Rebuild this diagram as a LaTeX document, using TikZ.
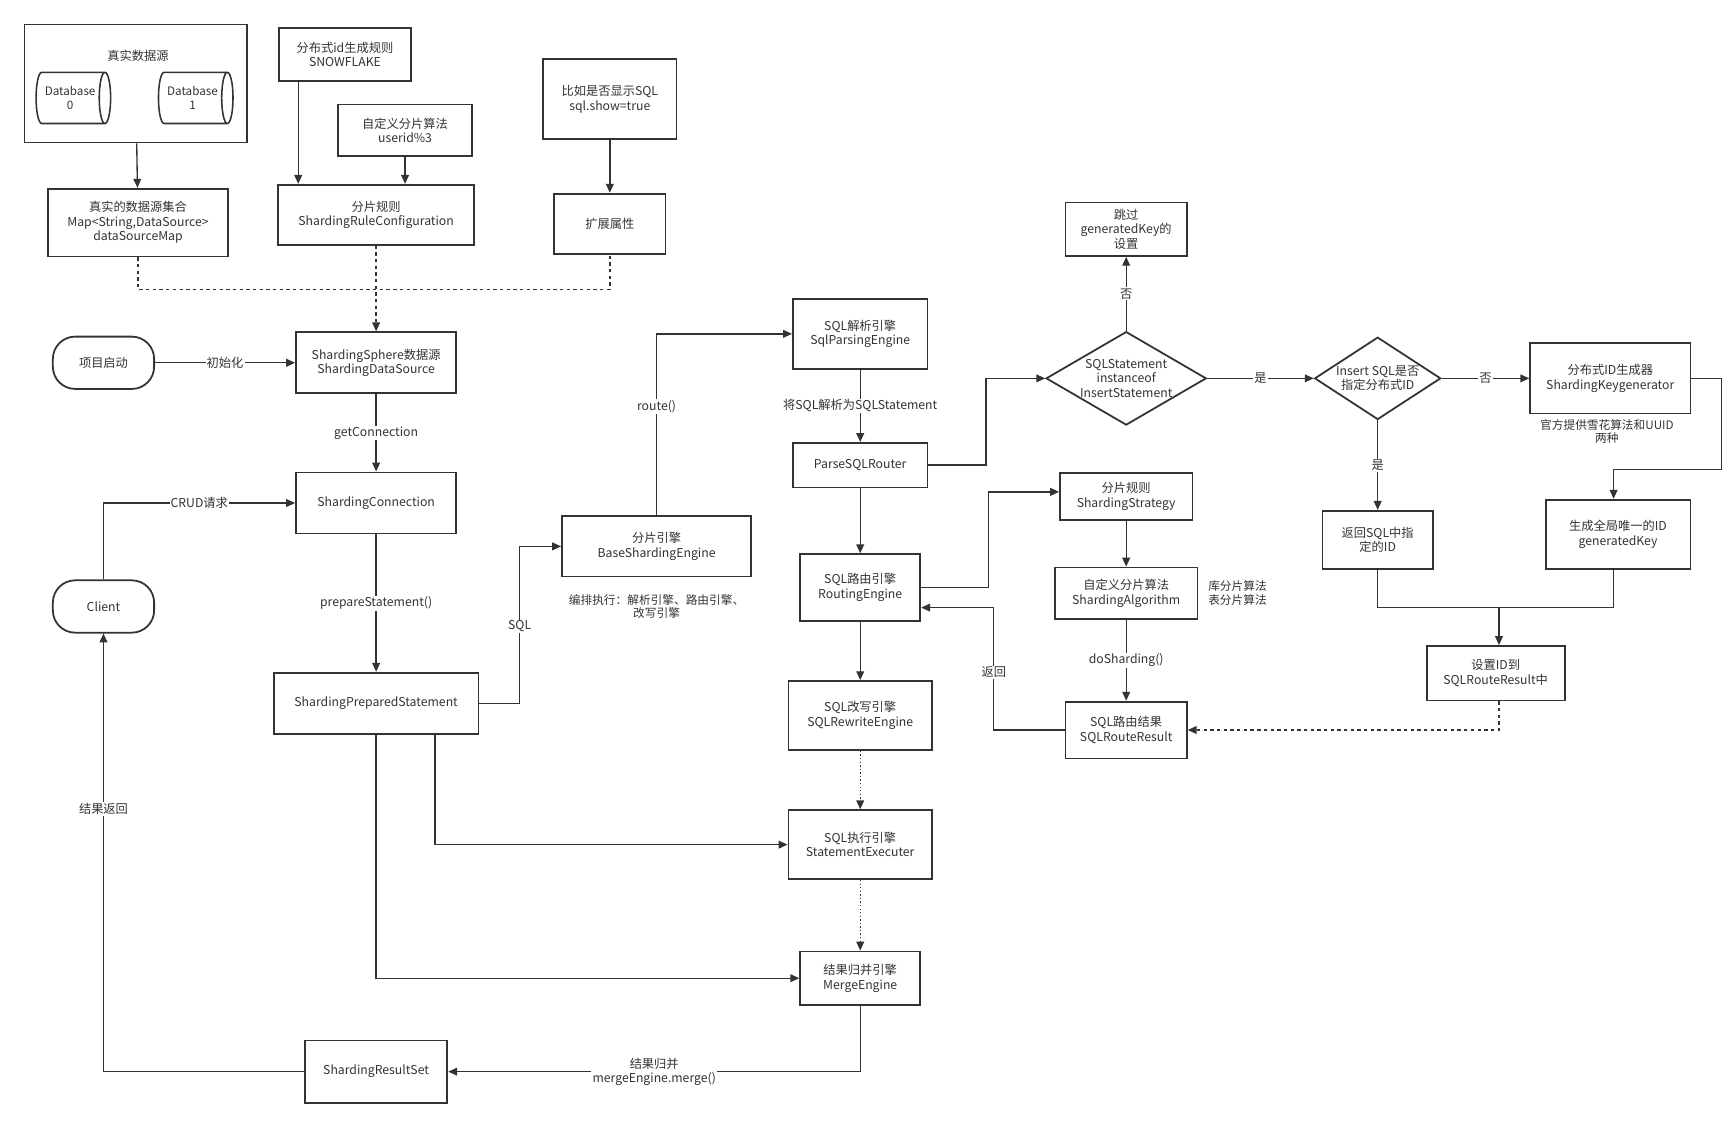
\documentclass[tikz,border=0pt]{standalone}
\usepackage{fontspec}
\setmainfont{Noto Sans CJK SC}
\usetikzlibrary{arrows.meta,shapes.geometric}
\begin{document}
\begin{tikzpicture}[x=1pt,y=-1pt,line width=1.2pt,color={black!80},
  >={Triangle[length=8pt,width=7pt]},
  font=\fontsize{11}{13}\selectfont,
  box/.style={draw,line width=1.6pt,align=center,inner sep=0pt},
  term/.style={draw,line width=1.6pt,rounded corners=20pt,minimum width=91pt,minimum height=47pt},
  dia/.style={draw,diamond,line width=1.6pt,align=center,inner sep=0pt,aspect=1.7},
  db/.style={draw,cylinder,shape aspect=0.5,line width=1.4pt,minimum width=46pt,minimum height=67pt,align=center,inner sep=0pt,font=\fontsize{10.5}{12}\selectfont},
  lbl/.style={fill=white,inner sep=1pt},
  note/.style={align=center,font=\fontsize{10.5}{12}\selectfont}]
  \useasboundingbox (0,0) rectangle (1560,1008);
  % top configuration
  \node[box,minimum width=200pt,minimum height=106pt] (src) at (122,75) {};
  \node at (124,50) {真实数据源};
  \node[db] (db0) at (63,88) {Database\\0};
  \node[db] (db1) at (173,88) {Database\\1};
  \node[box,minimum width=162pt,minimum height=61pt] (dsmap) at (124,200) {真实的数据源集合\\Map<String,DataSource>\\dataSourceMap};
  \node[box,minimum width=119pt,minimum height=47pt] (snow) at (310,49) {分布式id生成规则\\SNOWFLAKE};
  \node[box,minimum width=120pt,minimum height=46pt] (algo) at (364,117) {自定义分片算法\\userid\%3};
  \node[box,minimum width=176pt,minimum height=54pt] (rule) at (338,193) {分片规则\\ShardingRuleConfiguration};
  \node[box,minimum width=120pt,minimum height=72pt] (show) at (548,89) {比如是否显示SQL\\sql.show=true};
  \node[box,minimum width=100pt,minimum height=54pt] (ext) at (548,201) {扩展属性};
  % main flow
  \node[term] (start) at (93,326) {项目启动};
  \node[box,minimum width=144pt,minimum height=55pt] (ds) at (338,326) {ShardingSphere数据源\\ShardingDataSource};
  \node[box,minimum width=144pt,minimum height=55pt] (conn) at (338,452) {ShardingConnection};
  \node[term] (client) at (93,545) {Client};
  \node[box,minimum width=184pt,minimum height=55pt] (pstmt) at (338,632) {ShardingPreparedStatement};
  \node[box,minimum width=128pt,minimum height=56pt] (rs) at (338,963) {ShardingResultSet};
  \node[box,minimum width=170pt,minimum height=54pt] (bse) at (590,491) {分片引擎\\BaseShardingEngine};
  \node[box,minimum width=121pt,minimum height=63pt] (parse) at (773,300) {SQL解析引擎\\SqlParsingEngine};
  \node[box,minimum width=121pt,minimum height=40pt] (psr) at (773,418) {ParseSQLRouter};
  \node[box,minimum width=108pt,minimum height=60pt] (route) at (773,528) {SQL路由引擎\\RoutingEngine};
  \node[box,minimum width=129pt,minimum height=62pt] (rewrite) at (773,643) {SQL改写引擎\\SQLRewriteEngine};
  \node[box,minimum width=129pt,minimum height=62pt] (exec) at (773,759) {SQL执行引擎\\StatementExecuter};
  \node[box,minimum width=108pt,minimum height=48pt] (merge) at (773,879) {结果归并引擎\\MergeEngine};
  % right side
  \node[box,minimum width=109pt,minimum height=48pt] (skip) at (1012,206) {跳过\\generatedKey的\\设置};
  \node[dia,minimum width=144pt,minimum height=84pt] (isins) at (1012,340) {SQLStatement\\instanceof\\InsertStatement};
  \node[dia,minimum width=108pt,minimum height=74pt] (hasid) at (1238,340) {Insert SQL是否\\指定分布式ID};
  \node[box,minimum width=144pt,minimum height=63pt] (keygen) at (1447,340) {分布式ID生成器\\ShardingKeygenerator};
  \node[box,minimum width=99pt,minimum height=52pt] (retid) at (1238,485) {返回SQL中指\\定的ID};
  \node[box,minimum width=130pt,minimum height=62pt] (genkey) at (1454,480) {生成全局唯一的ID\\generatedKey};
  \node[box,minimum width=124pt,minimum height=49pt] (setid) at (1344,605) {设置ID到\\SQLRouteResult中};
  \node[box,minimum width=119pt,minimum height=42pt] (strat) at (1012,446) {分片规则\\ShardingStrategy};
  \node[box,minimum width=128pt,minimum height=46pt] (shalgo) at (1012,533) {自定义分片算法\\ShardingAlgorithm};
  \node[box,minimum width=109pt,minimum height=51pt] (res) at (1012,656) {SQL路由结果\\SQLRouteResult};
  % notes
  \node[note] (n1) at (590,545) {编排执行：解析引擎、路由引擎、\\改写引擎};
  \node[note] (n2) at (1112,533) {库分片算法\\表分片算法};
  \node[note] (n3) at (1444,388) {官方提供雪花算法和UUID\\两种};
  % connectors
  \draw[->] (src) -- (dsmap);
  \draw[->] (snow.south -| 268,0) -- (rule.north -| 268,0);
  \draw[->] (algo) -- (rule.north -| algo);
  \draw[->] (show) -- (ext);
  \draw[dashed] (dsmap.south) |- (548,260) -- (ext.south);
  \draw[->,dashed] (rule) -- (ds);
  \draw[->] (start) -- node[lbl] {初始化} (ds);
  \draw[->] (ds) -- node[lbl] {getConnection} (conn);
  \draw[->] (client.north) |- node[lbl,pos=0.75] {CRUD请求} (conn.west);
  \draw[->] (conn) -- node[lbl] {prepareStatement()} (pstmt);
  \draw[->] (pstmt.east) -| (467,563) node[lbl] {SQL} |- (bse.west);
  \draw[->] (bse.north) |- node[lbl,pos=0.3] {route()} (parse.west);
  \draw[->] (parse) -- node[lbl] {将SQL解析为SQLStatement} (psr);
  \draw[->] (psr.east) -| (886,340) -- (isins.west);
  \draw[->] (isins.north) -- node[lbl] {否} (skip.south);
  \draw[->] (isins.east) -- node[lbl] {是} (hasid.west);
  \draw[->] (hasid.east) -- node[lbl] {否} (keygen.west);
  \draw[->] (hasid.south) -- node[lbl] {是} (retid.north);
  \draw[->] (keygen.east) -| (1547,422) -| (genkey.north -| 1450,0);
  \draw (retid.south) |- (1450,546) -- (genkey.south -| 1450,0);
  \draw[->] (1347,546) -- (setid.north -| 1347,0);
  \draw[->,dashed] (setid.south -| 1347,0) |- (res.east);
  \draw[->] (psr) -- (route);
  \draw[->] (route.east) -| (888,442) -- (strat.west |- 0,442);
  \draw[->] (strat) -- (shalgo);
  \draw[->] (shalgo) -- node[lbl] {doSharding()} (res);
  \draw[->] (res.west) -| (893,604) node[lbl] {返回} |- (route.east |- 0,546);
  \draw[->] (route) -- (rewrite);
  \draw[->,dotted] (rewrite) -- (exec);
  \draw[->,dotted] (exec) -- (merge);
  \draw[->] (pstmt.south -| 391,0) |- (exec.west);
  \draw[->] (pstmt.south) |- (merge.west);
  \draw[->] (merge.south) |- node[lbl,pos=0.75,align=center] {结果归并\\mergeEngine.merge()} (rs.east);
  \draw[->] (rs.west) -| node[lbl,pos=0.8] {结果返回} (client.south);
\end{tikzpicture}
\end{document}
